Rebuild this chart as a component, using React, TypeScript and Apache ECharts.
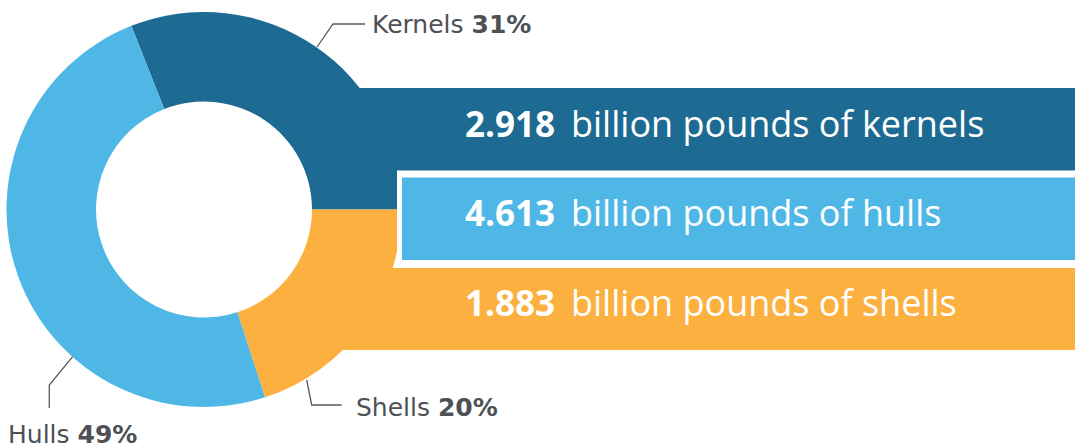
import React, { useEffect, useRef } from "react";
import * as echarts from "echarts";

// Pie shares (percent), clockwise from the top
const categories = ["Kernels", "Shells", "Hulls"];
const shares = [31, 20, 49];

// Band texts (billion pounds), top to bottom
const bandItems = ["kernels", "hulls", "shells"];
const bandAmounts = ["2.918", "4.613", "1.883"];

const COLORS: Record<string, string> = {
  Kernels: "#1d6b92",
  Hulls: "#4fb7e6",
  Shells: "#fbb040",
  kernels: "#1d6b92",
  hulls: "#4fb7e6",
  shells: "#fbb040",
};

const FONT = "'Open Sans', Lato, sans-serif";
const LABEL_FONT = "'DejaVu Sans', 'Open Sans', sans-serif";
const GRAY = "#4d5156";

// layout constants
const CX = 204;
const CY = 209.5;
const R_IN = 108;
const R_OUT = 197.5;
const W = 1075;
const H = 448;

const labelPos: Record<string, { x: number; y: number; pts: number[][] }> = {
  Kernels: { x: 372, y: 24, pts: [[317, 47], [333, 24], [365, 24]] },
  Shells: { x: 356, y: 407, pts: [[306.7, 380], [311.7, 405], [341.7, 405]] },
  Hulls: { x: 8, y: 434, pts: [[72.7, 356.7], [49.3, 385], [49.3, 408]] },
};

const bandRects = [
  { x: 338, y: 88, h: 89 },
  { x: 402, y: 177.5, h: 82.5 },
  { x: 330, y: 268, h: 82 },
];

export default function App() {
  const ref = useRef<HTMLDivElement>(null);
  useEffect(() => {
    if (!ref.current) return;
    const chart = echarts.init(ref.current, null, { renderer: "svg" });
    const startAngle = (shares[0] / 100) * 360;

    const graphics: any[] = [];
    // white outline behind the middle band
    graphics.push({
      type: "rect",
      z: 10,
      shape: { x: 397, y: 170.5, width: W - 397 + 5, height: 97.5 },
      style: { fill: "#ffffff" },
    });
    bandItems.forEach((item, i) => {
      const r = bandRects[i];
      graphics.push({
        type: "rect",
        z: i === 1 ? 11 : 9,
        shape: { x: r.x, y: r.y, width: W - r.x + 5, height: r.h },
        style: { fill: COLORS[item] },
      });
    });
    const textMid = [123.5, 212.8, 302.8];
    bandItems.forEach((item, i) => {
      graphics.push({
        type: "text",
        z: 12,
        x: 465,
        y: textMid[i],
        style: {
          text: bandAmounts[i],
          verticalAlign: "middle",
          align: "left",
          fontFamily: FONT,
          fontSize: 35,
          fontWeight: "bold",
          fill: "#ffffff",
        },
      });
      graphics.push({
        type: "text",
        z: 12,
        x: 571,
        y: textMid[i],
        style: {
          text: `billion pounds of ${item}`,
          verticalAlign: "middle",
          align: "left",
          fontFamily: FONT,
          fontSize: 36,
          fontWeight: "normal",
          fill: "#ffffff",
        },
      });
    });

    chart.setOption({
      animation: false,
      graphic: graphics,
      series: [
        {
          type: "pie",
          center: [CX, CY],
          radius: [R_IN, R_OUT],
          startAngle,
          clockwise: true,
          avoidLabelOverlap: false,
          z: 2,
          silent: true,
          itemStyle: { borderWidth: 0 },
          data: categories.map((c, i) => ({
            name: c,
            value: shares[i],
            itemStyle: { color: COLORS[c] },
          })),
          label: {
            show: true,
            position: "outside",
            width: 260,
            overflow: "none",
            formatter: "{n|{b} }{v|{c}%}",
            rich: {
              n: { fontFamily: LABEL_FONT, fontSize: 25, color: GRAY, fontWeight: "normal", lineHeight: 24 },
              v: { fontFamily: LABEL_FONT, fontSize: 25, color: GRAY, fontWeight: "bold", lineHeight: 24 },
            },
          },
          labelLine: {
            show: true,
            lineStyle: { color: "#555a5f", width: 1.3 },
          },
          labelLayout: (params: any) => {
            const name = categories[params.dataIndex];
            const p = labelPos[name];
            return {
              x: p.x,
              y: p.y,
              align: "left",
              verticalAlign: "middle",
              labelLinePoints: p.pts,
            };
          },
        },
      ],
    });
    return () => chart.dispose();
  }, []);
  return (
    <div
      ref={ref}
      style={{ position: "fixed", left: 0, top: 0, width: W, height: H, background: "#fff" }}
    />
  );
}
